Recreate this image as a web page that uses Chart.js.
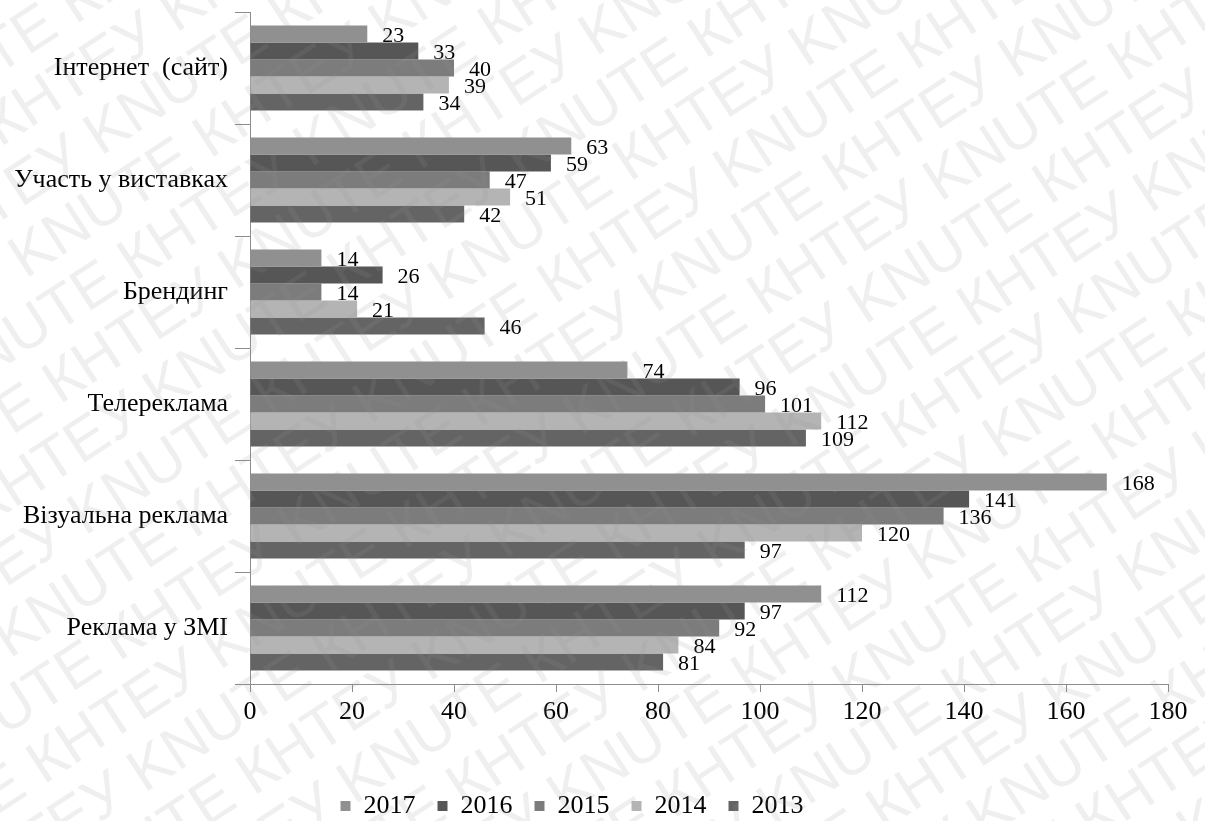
<!DOCTYPE html>
<html lang="uk">
<head>
<meta charset="utf-8">
<title>Засоби просування</title>
<script src="https://cdn.jsdelivr.net/npm/chart.js@4/dist/chart.umd.min.js"></script>
<style>
  html, body { margin: 0; padding: 0; background: #ffffff; }
  #wrap { position: relative; width: 1205px; height: 821px; }
</style>
</head>
<body>
<div id="wrap"><canvas id="chart" width="1205" height="821"></canvas></div>
<script>
// Categories (top to bottom) and yearly values
const categories = ['Інтернет  (сайт)', 'Участь у виставках', 'Брендинг', 'Телереклама', 'Візуальна реклама', 'Реклама у ЗМІ'];
const years = ['2017', '2016', '2015', '2014', '2013'];
const values2017 = [23, 63, 14, 74, 168, 112];
const values2016 = [33, 59, 26, 96, 141, 97];
const values2015 = [40, 47, 14, 101, 136, 92];
const values2014 = [39, 51, 21, 112, 120, 84];
const values2013 = [34, 42, 46, 109, 97, 81];
const xTicks = [0, 20, 40, 60, 80, 100, 120, 140, 160, 180];

const seriesValues = [values2017, values2016, values2015, values2014, values2013];
const seriesColors = ['#909090', '#565656', '#7c7c7c', '#b4b4b4', '#646464'];

const SERIF = '"Liberation Serif", "Times New Roman", serif';
const LEGEND_FONT = 26;
const LEGEND_PAD = 22;

// Value labels just right of each bar end
const valueLabels = {
  id: 'valueLabels',
  afterDatasetsDraw(chart) {
    const ctx = chart.ctx;
    ctx.save();
    ctx.font = '22px ' + SERIF;
    ctx.fillStyle = '#000';
    ctx.textAlign = 'left';
    ctx.textBaseline = 'middle';
    chart.data.datasets.forEach((ds, di) => {
      chart.getDatasetMeta(di).data.forEach((bar, i) => {
        ctx.fillText(String(ds.data[i]), bar.x + 15, bar.y + 2);
      });
    });
    ctx.restore();
  }
};

// Keep the legend row on a fixed line near the bottom edge, slightly left of centre
const legendRow = {
  id: 'legendRow',
  afterLayout(chart) {
    const lg = chart.legend;
    if (!lg) return;
    const centre = lg.top + LEGEND_PAD + LEGEND_FONT / 2;
    const dy = 806 - centre;
    lg.top += dy;
    lg.bottom += dy;
    lg.left -= 12;
    lg.right -= 12;
  }
};

// Diagonal institution watermark over the whole page
const watermark = {
  id: 'watermark',
  afterDraw(chart) {
    const ctx = chart.ctx;
    ctx.save();
    ctx.font = '60px "Liberation Sans", Arial, sans-serif';
    ctx.fillStyle = 'rgba(150,150,150,0.15)';
    ctx.textBaseline = 'alphabetic';
    ctx.rotate(-33 * Math.PI / 180);
    const unit = 'KNUTE КНТЕУ ';
    const line = unit.repeat(14);
    const unitW = ctx.measureText(unit).width;
    const step = 62;
    for (let r = -10; r < 40; r++) {
      const y = r * step;
      const shift = ((r * 130) % unitW + unitW) % unitW;
      ctx.fillText(line, -900 - shift, y);
    }
    ctx.restore();
  }
};

new Chart(document.getElementById('chart'), {
  type: 'bar',
  data: {
    labels: categories,
    datasets: years.map((y, k) => ({
      label: y,
      data: seriesValues[k],
      backgroundColor: seriesColors[k],
      borderWidth: 0,
      categoryPercentage: 0.76,
      barPercentage: 1.0
    }))
  },
  options: {
    indexAxis: 'y',
    responsive: false,
    animation: false,
    layout: { padding: { top: 12, right: 37, left: 0, bottom: 19 } },
    scales: {
      x: {
        min: 0,
        max: 180,
        afterBuildTicks: s => { s.ticks = xTicks.map(v => ({ value: v })); },
        ticks: { font: { family: SERIF, size: 26 }, color: '#000', padding: 5, maxRotation: 0 },
        grid: { drawOnChartArea: false, tickLength: 8, color: '#8c8c8c' },
        border: { color: '#8c8c8c', width: 1 },
        afterFit: s => { s.height = 60; s.paddingLeft = 0; s.paddingRight = 0; }
      },
      y: {
        ticks: { font: { family: SERIF, size: 26 }, color: '#000', padding: 7 },
        grid: { drawOnChartArea: false, offset: true, tickLength: 15, color: '#8c8c8c' },
        border: { color: '#8c8c8c', width: 1 },
        afterFit: s => { s.width = 250; s.paddingTop = 0; s.paddingBottom = 0; }
      }
    },
    plugins: {
      legend: {
        position: 'bottom',
        labels: {
          font: { family: SERIF, size: LEGEND_FONT },
          color: '#000',
          boxWidth: 10,
          boxHeight: 10,
          padding: LEGEND_PAD
        }
      },
      tooltip: { enabled: false }
    }
  },
  plugins: [valueLabels, legendRow, watermark]
});
</script>
</body>
</html>
